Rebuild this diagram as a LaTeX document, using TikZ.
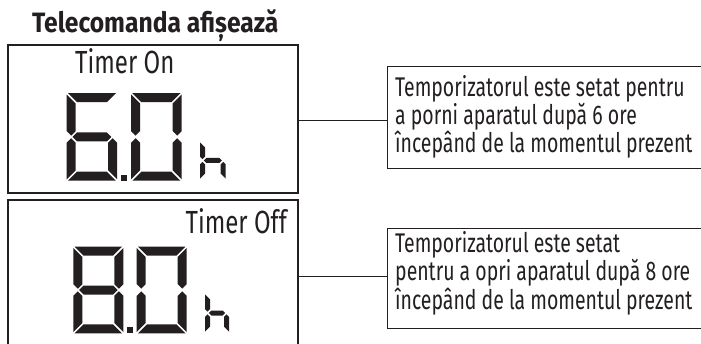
\documentclass[tikz,border=0pt]{standalone}
\usepackage{fontspec}
\newfontfamily\bodyfont{Fira Sans}[FakeStretch=0.72]
\newfontfamily\timerfont{Fira Sans}[FakeStretch=0.75]
\newfontfamily\titlefont{Fira Sans}[FakeStretch=0.88]
\definecolor{ink}{RGB}{35,31,32}
\def\sg{1.3}
\newcommand\segA{(\sg,\sh) -- (\sw-\sg,\sh) -- (\sw-\st-\sg,\sh-\st) -- (\st+\sg,\sh-\st) -- cycle}
\newcommand\segD{(\sg,0) -- (\sw-\sg,0) -- (\sw-\st-\sg,\st) -- (\st+\sg,\st) -- cycle}
\newcommand\segF{(0,\sh-\sg) -- (\st,\sh-\st-\sg) -- (\st,\sm+\st/2+\sg) -- (\st/2,\sm+\sg) -- (0,\sm+\st/2+\sg) -- cycle}
\newcommand\segE{(0,\sg) -- (\st,\st+\sg) -- (\st,\sm-\st/2-\sg) -- (\st/2,\sm-\sg) -- (0,\sm-\st/2-\sg) -- cycle}
\newcommand\segB{(\sw,\sh-\sg) -- (\sw-\st,\sh-\st-\sg) -- (\sw-\st,\sm+\st/2+\sg) -- (\sw-\st/2,\sm+\sg) -- (\sw,\sm+\st/2+\sg) -- cycle}
\newcommand\segC{(\sw,\sg) -- (\sw-\st,\st+\sg) -- (\sw-\st,\sm-\st/2-\sg) -- (\sw-\st/2,\sm-\sg) -- (\sw,\sm-\st/2-\sg) -- cycle}
\newcommand\segG{(\st/2+\sg,\sm) -- (\st+\sg,\sm+\st/2) -- (\sw-\st-\sg,\sm+\st/2) -- (\sw-\st/2-\sg,\sm) -- (\sw-\st-\sg,\sm-\st/2) -- (\st+\sg,\sm-\st/2) -- cycle}
\newcommand\lcddigit[6]{%
  \begin{scope}[shift={(#1,#2)}]
    \def\sw{#3}\def\sh{#4}\def\st{#5}\pgfmathsetmacro\sm{#4/2}
    \foreach \s in {#6}{\expandafter\fill\csname seg\s\endcsname;}
  \end{scope}}
\begin{document}
\begin{tikzpicture}[x=1pt,y=1pt,
  panel/.style={draw=ink, line width=1.2pt, inner sep=0pt, outer sep=0pt},
  note/.style={draw=ink, line width=1pt, inner sep=0pt, outer sep=0pt},
  conn/.style={draw=ink, line width=1pt},
  bodytext/.style={text=ink, inner sep=0pt, align=left, font=\bodyfont\fontsize{27}{25}\selectfont},
  timertext/.style={text=ink, inner sep=0pt, font=\timerfont\fontsize{32}{36}\selectfont},
  titletext/.style={text=ink, inner sep=0pt, font=\titlefont\bfseries\fontsize{28}{32}\selectfont}]
\useasboundingbox (0,0) rectangle (701,343);
\begin{scope}
\clip (0,0) rectangle (701,343);
\fill[white] (0,0) rectangle (701,343);
% title
\node[titletext, anchor=base west] (title) at (32,310) {Telecomanda afișează};
% display panels
\node[panel, minimum width=290pt, minimum height=148pt, anchor=south west] (d1) at (8,150) {};
\node[panel, minimum width=290pt, minimum height=160pt, anchor=north west] (d2) at (8,143) {};
% explanation boxes
\node[note, minimum width=340pt, minimum height=102pt, anchor=north west] (b1) at (387,276) {};
\node[note, minimum width=340pt, minimum height=100pt, anchor=north west] (b2) at (387,115) {};
% labels
\node[timertext, anchor=base west] (ton) at (75,269) {Timer On};
\node[timertext, anchor=base east] (toff) at (287,110) {Timer Off};
\node[bodytext, anchor=base west] (t1) at (395,190.5) {Temporizatorul este setat pentru\\a porni aparatul după 6 ore\\începând de la momentul prezent};
\node[bodytext, anchor=base west] (t2) at (395,34) {Temporizatorul este setat\\pentru a opri aparatul după 8 ore\\începând de la momentul prezent};
% connectors
\coordinate (c1) at ([yshift=-2.7pt]b1.west);
\coordinate (c2) at ([yshift=2pt]b2.west);
\draw[conn] (c1 -| d1.east) -- (c1);
\draw[conn] (c2 -| d2.east) -- (c2);
% LCD digits: top "6.0 h"
\begin{scope}[ink]
\lcddigit{66.7}{162.3}{50.5}{87.5}{9}{A,F,G,E,D,C}
\fill (121,162.3) rectangle (127,168.3);
\lcddigit{131}{162.3}{50.7}{87.5}{9}{A,B,C,D,E,F}
\lcddigit{200}{163}{25.7}{39}{5}{F,E,G,C}
% bottom "8.0 h"
\lcddigit{73.3}{9.7}{50}{86.6}{9}{A,B,C,D,E,F,G}
\fill (126.7,9.7) rectangle (132.7,15.7);
\lcddigit{136.7}{9.7}{50}{86.6}{9}{A,B,C,D,E,F}
\lcddigit{205}{10}{24}{40}{5}{F,E,G,C}
\end{scope}
\end{scope}
\end{tikzpicture}
\end{document}
